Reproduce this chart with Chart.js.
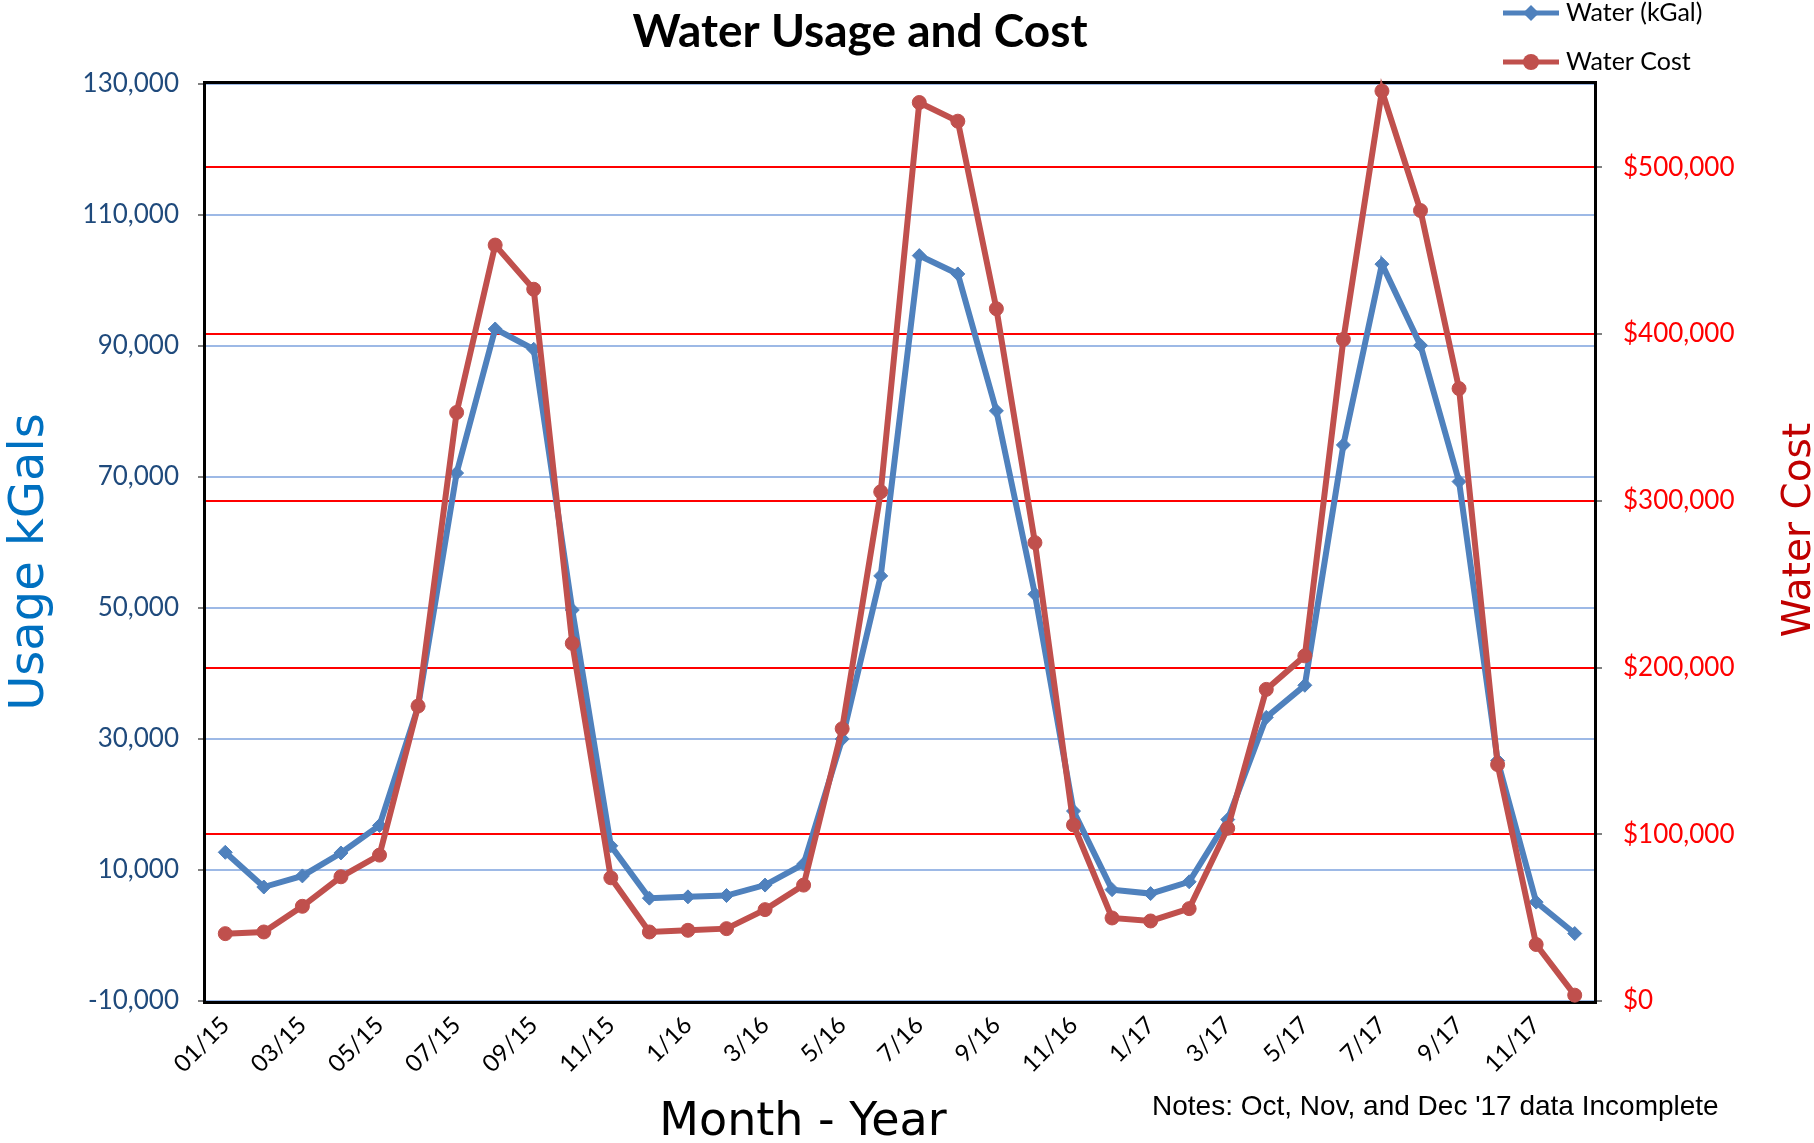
<!DOCTYPE html>
<html>
<head>
<meta charset="utf-8">
<script src="https://cdn.jsdelivr.net/npm/chart.js@4.4.1/dist/chart.umd.min.js"></script>
<style>
  html, body { margin: 0; padding: 0; background: #fff; }
</style>
</head>
<body>
<canvas id="chart" width="1814" height="1143"></canvas>
<script>
// month labels, every other one is shown on the axis
const months = [
  '01/15', '02/15', '03/15', '04/15', '05/15', '06/15', '07/15', '08/15', '09/15', '10/15', '11/15', '12/15',
  '1/16', '2/16', '3/16', '4/16', '5/16', '6/16', '7/16', '8/16', '9/16', '10/16', '11/16', '12/16',
  '1/17', '2/17', '3/17', '4/17', '5/17', '6/17', '7/17', '8/17', '9/17', '10/17', '11/17', '12/17',
];

// Water (kGal), left axis
const usageKGal = [
  12700, 7400, 9100, 12600, 16800, 34900, 70600, 92600, 89500, 49700, 13700, 5700,
  5900, 6100, 7700, 10900, 30000, 54900, 103800, 101000, 80100, 52100, 19000, 7000,
  6400, 8200, 17700, 33300, 38200, 74900, 102500, 90100, 69300, 26700, 5100, 300,
];

// Water Cost ($), right axis
const waterCost = [
  40400, 41400, 56800, 74500, 87500, 176900, 353000, 453400, 426900, 214500, 73900, 41400,
  42400, 43400, 54800, 69500, 163300, 305400, 538900, 527700, 415200, 274900, 105600, 49800,
  48000, 55400, 103600, 186900, 207000, 396800, 545800, 474100, 367300, 141800, 33900, 3500,
];

// axis ranges and tick values
const usageRange = [-10000, 130000];
const usageTicks = [-10000, 10000, 30000, 50000, 70000, 90000, 110000, 130000];
const costRange = [0, 550000];
const costTicks = [0, 100000, 200000, 300000, 400000, 500000];

const BLUE = '#4F81BD';
const RED = '#C0504D';
const TICK_FONT = 'Lato';

function verticalText(ctx, text, x, y, font, color) {
  ctx.save();
  ctx.translate(x, y);
  ctx.rotate(-Math.PI / 2);
  ctx.font = font;
  ctx.fillStyle = color;
  ctx.textAlign = 'center';
  ctx.textBaseline = 'alphabetic';
  ctx.fillText(text, 0, 0);
  ctx.restore();
}

function marker(ctx, style, x, y, r) {
  ctx.beginPath();
  if (style === 'rectRot') {
    ctx.moveTo(x, y - r);
    ctx.lineTo(x + r, y);
    ctx.lineTo(x, y + r);
    ctx.lineTo(x - r, y);
    ctx.closePath();
  } else {
    ctx.arc(x, y, r, 0, Math.PI * 2);
  }
  ctx.fill();
}

// black frame round the plot area, under the lines
const framePlugin = {
  id: 'frame',
  beforeDatasetsDraw(chart) {
    const { ctx, chartArea: a } = chart;
    ctx.save();
    ctx.strokeStyle = '#000';
    ctx.lineWidth = 3;
    ctx.strokeRect(a.left - 1.5, a.top - 1.5, a.width + 3, a.height + 3);
    ctx.restore();
  },
};

// title, axis titles, note and legend
const textPlugin = {
  id: 'texts',
  afterDraw(chart) {
    const { ctx } = chart;
    ctx.save();
    ctx.fillStyle = '#000';
    ctx.textAlign = 'center';
    ctx.textBaseline = 'alphabetic';
    ctx.font = 'bold 46px Lato';
    ctx.fillText('Water Usage and Cost', 860, 47);

    ctx.font = '46px "DejaVu Sans"';
    ctx.fillText('Month - Year', 803, 1135);

    ctx.textAlign = 'left';
    ctx.font = '28px "Liberation Sans"';
    ctx.fillText("Notes: Oct, Nov, and Dec '17 data Incomplete", 1152, 1115);

    verticalText(ctx, 'Usage kGals', 43, 562, '48px "DejaVu Sans"', '#0070C0');
    verticalText(ctx, 'Water Cost', 1810, 530, '39px "DejaVu Sans"', '#C00000');

    chart.data.datasets.forEach((ds, i) => {
      const y = 13 + i * 49;
      ctx.strokeStyle = ds.borderColor;
      ctx.fillStyle = ds.borderColor;
      ctx.lineWidth = 5;
      ctx.beginPath();
      ctx.moveTo(1503, y);
      ctx.lineTo(1559, y);
      ctx.stroke();
      marker(ctx, ds.pointStyle, 1531, y, ds.pointRadius + 1);
      ctx.fillStyle = '#000';
      ctx.font = '25px Lato';
      ctx.textBaseline = 'middle';
      ctx.fillText(ds.label, 1566, y);
    });
    ctx.restore();
  },
};

const fixedTicks = (values) => (scale) => {
  scale.ticks = values.map((v) => ({ value: v }));
};

new Chart(document.getElementById('chart'), {
  type: 'line',
  data: {
    labels: months,
    datasets: [
      {
        label: 'Water (kGal)',
        data: usageKGal,
        yAxisID: 'y',
        borderColor: BLUE,
        backgroundColor: BLUE,
        borderWidth: 6,
        pointStyle: 'rectRot',
        pointRadius: 7,
        pointBorderWidth: 1,
        order: 1,
        clip: 12,
      },
      {
        label: 'Water Cost',
        data: waterCost,
        yAxisID: 'y1',
        borderColor: RED,
        backgroundColor: RED,
        borderWidth: 6,
        pointStyle: 'circle',
        pointRadius: 7,
        pointBorderWidth: 1,
        order: 0,
        clip: 12,
      },
    ],
  },
  options: {
    responsive: false,
    animation: false,
    layout: { padding: { top: 84, left: 0, right: 0, bottom: 0 } },
    plugins: {
      legend: { display: false },
      title: { display: false },
      tooltip: { enabled: false },
    },
    scales: {
      x: {
        type: 'category',
        offset: true,
        grid: { display: false, drawTicks: false },
        border: { display: false },
        ticks: {
          autoSkip: false,
          maxRotation: 45,
          minRotation: 45,
          padding: 10,
          color: '#000',
          font: { family: TICK_FONT, size: 24 },
          callback: (v, i) => (i % 2 === 0 ? months[i] : ''),
        },
        afterFit: (s) => { s.height = 142; },
      },
      y: {
        position: 'left',
        min: usageRange[0],
        max: usageRange[1],
        afterBuildTicks: fixedTicks(usageTicks),
        ticks: {
          padding: 19,
          color: '#1F4A7C',
          font: { family: TICK_FONT, size: 26 },
          callback: (v) => v.toLocaleString('en-US'),
        },
        grid: {
          color: (c) => (c.tick && c.tick.value === 0 ? '#808080' : '#9DB9E6'),
          lineWidth: 2,
          tickColor: '#808080',
          tickLength: 8,
          tickWidth: 2,
        },
        border: { display: false },
        afterFit: (s) => { s.width = 206; },
      },
      y1: {
        position: 'right',
        min: costRange[0],
        max: costRange[1],
        afterBuildTicks: fixedTicks(costTicks),
        ticks: {
          padding: 21,
          color: '#FF0000',
          font: { family: TICK_FONT, size: 26 },
          callback: (v) => '$' + v.toLocaleString('en-US'),
        },
        grid: {
          color: (c) => (c.tick && c.tick.value === 0 ? 'rgba(0,0,0,0)' : '#FF0000'),
          lineWidth: 2,
          tickColor: '#808080',
          tickLength: 8,
          tickWidth: 2,
        },
        border: { display: false },
        afterFit: (s) => { s.width = 220; },
      },
    },
  },
  plugins: [framePlugin, textPlugin],
});
</script>
</body>
</html>
